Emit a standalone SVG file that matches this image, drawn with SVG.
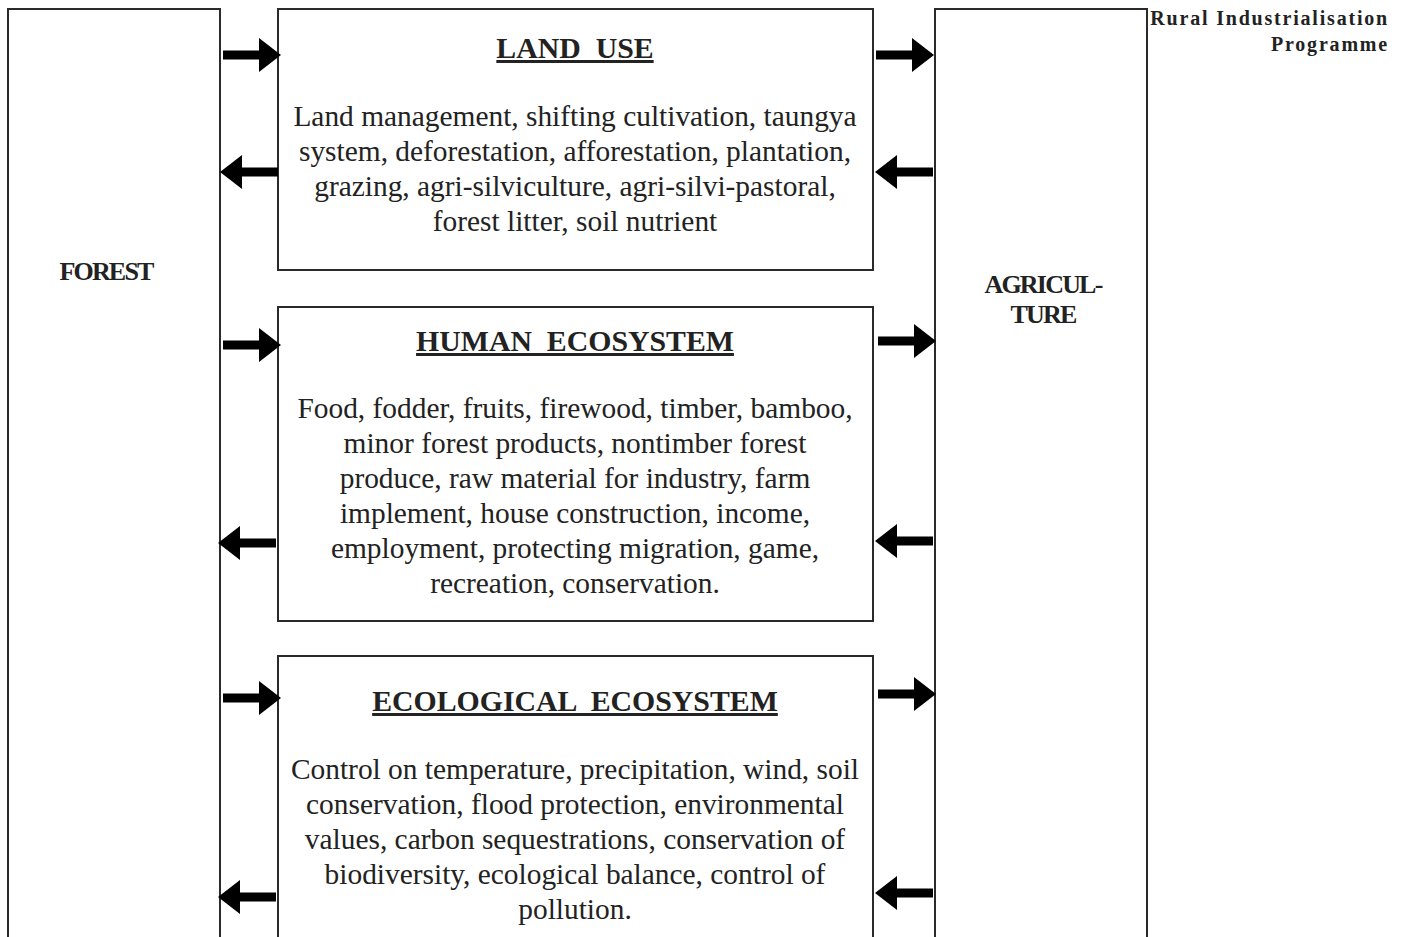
<svg xmlns="http://www.w3.org/2000/svg" width="1403" height="937" viewBox="0 0 1403 937">
<defs>
<style>
.box{fill:#fff;stroke:#2a2a2a;stroke-width:2}
.t{font-family:"Liberation Serif","Times New Roman",serif;fill:#222}
.body{font-size:29.4px;text-anchor:middle}
.title{font-size:29.8px;font-weight:bold;text-anchor:middle;text-decoration:underline;white-space:pre}
.side{font-size:26px;font-weight:bold;text-anchor:middle;letter-spacing:-1.8px}
.hdr{font-size:20px;font-weight:bold;text-anchor:end;letter-spacing:1.8px}
.shaft{stroke:#000;stroke-width:9}
.head{fill:#000}
</style>
<g id="arrowR"><line class="shaft" x1="0" y1="0" x2="38" y2="0"/><polygon class="head" points="36,-17 58,0 36,17"/></g>
<g id="arrowL"><line class="shaft" x1="58" y1="0" x2="20" y2="0"/><polygon class="head" points="22,-17 0,0 22,17"/></g>
</defs>
<rect width="1403" height="937" fill="#fff"/>
<g id="forest">
<rect class="box" x="8" y="9" width="212" height="940"/>
<text class="t side" x="106" y="280">FOREST</text>
</g>
<g id="agriculture">
<rect class="box" x="935" y="9" width="212" height="940"/>
<text class="t side" x="1043" y="293">AGRICUL-</text>
<text class="t side" x="1043" y="323">TURE</text>
</g>
<g id="land-use">
<rect class="box" x="278" y="9" width="595" height="261"/>
<text class="t title" x="575" y="58">LAND  USE</text>
<text class="t body" x="575" y="126">Land management, shifting cultivation, taungya</text>
<text class="t body" x="575" y="161">system, deforestation, afforestation, plantation,</text>
<text class="t body" x="575" y="196">grazing, agri-silviculture, agri-silvi-pastoral,</text>
<text class="t body" x="575" y="231">forest litter, soil nutrient</text>
</g>
<g id="human-ecosystem">
<rect class="box" x="278" y="307" width="595" height="314"/>
<text class="t title" x="575" y="351">HUMAN  ECOSYSTEM</text>
<text class="t body" x="575" y="418">Food, fodder, fruits, firewood, timber, bamboo,</text>
<text class="t body" x="575" y="453">minor forest products, nontimber forest</text>
<text class="t body" x="575" y="488">produce, raw material for industry, farm</text>
<text class="t body" x="575" y="523">implement, house construction, income,</text>
<text class="t body" x="575" y="558">employment, protecting migration, game,</text>
<text class="t body" x="575" y="593">recreation, conservation.</text>
</g>
<g id="ecological-ecosystem">
<rect class="box" x="278" y="656" width="595" height="300"/>
<text class="t title" x="575" y="711">ECOLOGICAL  ECOSYSTEM</text>
<text class="t body" x="575" y="779">Control on temperature, precipitation, wind, soil</text>
<text class="t body" x="575" y="814">conservation, flood protection, environmental</text>
<text class="t body" x="575" y="849">values, carbon sequestrations, conservation of</text>
<text class="t body" x="575" y="884">biodiversity, ecological balance, control of</text>
<text class="t body" x="575" y="919">pollution.</text>
</g>
<g id="header">
<text class="t hdr" x="1389" y="25">Rural Industrialisation</text>
<text class="t hdr" x="1389" y="51">Programme</text>
</g>
<g id="connectors">
<use href="#arrowR" x="223" y="55"/>
<use href="#arrowL" x="220" y="172"/>
<use href="#arrowR" x="223" y="345"/>
<use href="#arrowL" x="218" y="543"/>
<use href="#arrowR" x="223" y="698"/>
<use href="#arrowL" x="218" y="897"/>
<use href="#arrowR" x="876" y="55"/>
<use href="#arrowL" x="875" y="172"/>
<use href="#arrowR" x="878" y="341"/>
<use href="#arrowL" x="875" y="541"/>
<use href="#arrowR" x="878" y="694"/>
<use href="#arrowL" x="875" y="893"/>
</g>
</svg>
